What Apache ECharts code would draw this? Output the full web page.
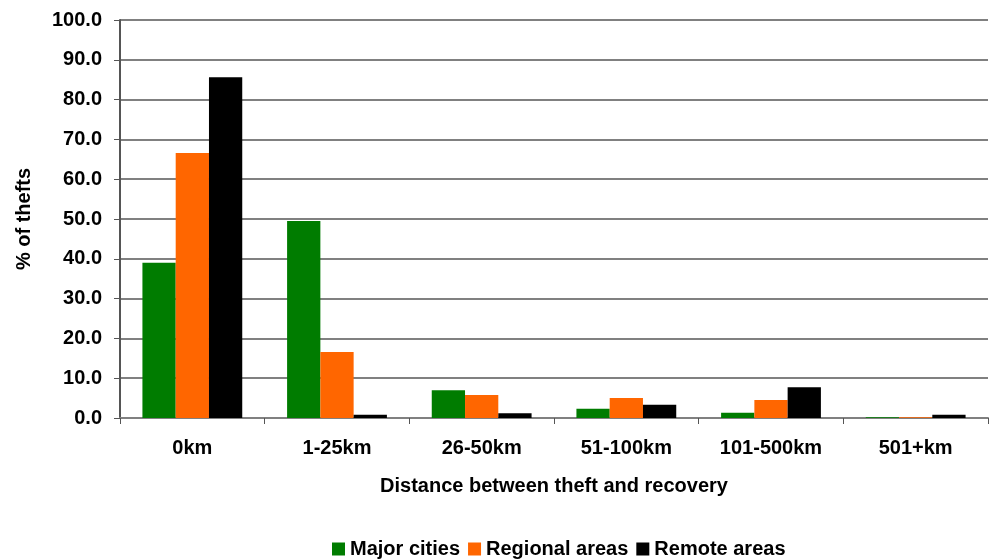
<!DOCTYPE html>
<html>
<head>
<meta charset="utf-8">
<script src="https://cdn.jsdelivr.net/npm/echarts@6/dist/echarts.min.js"></script>
<style>
  html, body { margin: 0; padding: 0; background: #fff; }
  #chart { width: 989px; height: 559px; }
</style>
</head>
<body>
<div id="chart"></div>
<script>
// distance bands
var categories = ["0km", "1-25km", "26-50km", "51-100km", "101-500km", "501+km"];
// % of thefts per area
var majorCities = [39.0, 49.5, 7.0, 2.3, 1.3, 0.2];
var regionalAreas = [66.6, 16.6, 5.8, 5.0, 4.5, 0.2];
var remoteAreas = [85.6, 0.8, 1.2, 3.3, 7.7, 0.8];
var yTicks = [0, 10, 20, 30, 40, 50, 60, 70, 80, 90, 100];

var myChart = echarts.init(document.getElementById("chart"));
var font = "'Liberation Sans', Arial, sans-serif";

var option = {
  animation: false,
  textStyle: { fontFamily: font },
  grid: { left: 120, right: 1, top: 20, bottom: 141 },
  legend: {
    top: 534,
    left: 327,
    itemWidth: 13,
    itemHeight: 13,
    itemGap: 8,
    icon: "rect",
    textStyle: { fontFamily: font, fontSize: 20, fontWeight: "bold", color: "#000" },
    data: ["Major cities", "Regional areas", "Remote areas"]
  },
  xAxis: {
    type: "category",
    data: categories,
    name: "Distance between theft and recovery",
    nameLocation: "middle",
    nameGap: 58,
    nameTextStyle: { fontFamily: font, fontSize: 20, fontWeight: "bold", color: "#000" },
    axisLine: { lineStyle: { color: "#808080", width: 2 } },
    axisTick: { show: true, length: 6, lineStyle: { color: "#555" } },
    axisLabel: { margin: 20, fontFamily: font, fontSize: 20, fontWeight: "bold", color: "#000" }
  },
  yAxis: {
    type: "value",
    min: yTicks[0],
    max: yTicks[yTicks.length - 1],
    interval: 10,
    name: "% of thefts",
    nameLocation: "middle",
    nameGap: 86,
    nameTextStyle: { fontFamily: font, fontSize: 20, fontWeight: "bold", color: "#000" },
    axisLine: { show: true, lineStyle: { color: "#555", width: 2 } },
    axisTick: { show: true, length: 6, lineStyle: { color: "#555" } },
    splitLine: { lineStyle: { color: "#808080", width: 2 } },
    axisLabel: {
      margin: 18,
      fontFamily: font, fontSize: 20, fontWeight: "bold", color: "#000",
      formatter: function (v) { return v.toFixed(1); }
    }
  },
  series: [
    { name: "Major cities", type: "bar", data: majorCities, barGap: "0%", barCategoryGap: "31%", itemStyle: { color: "#007c00" } },
    { name: "Regional areas", type: "bar", data: regionalAreas, barGap: "0%", barCategoryGap: "31%", itemStyle: { color: "#ff6600" } },
    { name: "Remote areas", type: "bar", data: remoteAreas, barGap: "0%", barCategoryGap: "31%", itemStyle: { color: "#000000" } }
  ]
};

myChart.setOption(option);
</script>
</body>
</html>
